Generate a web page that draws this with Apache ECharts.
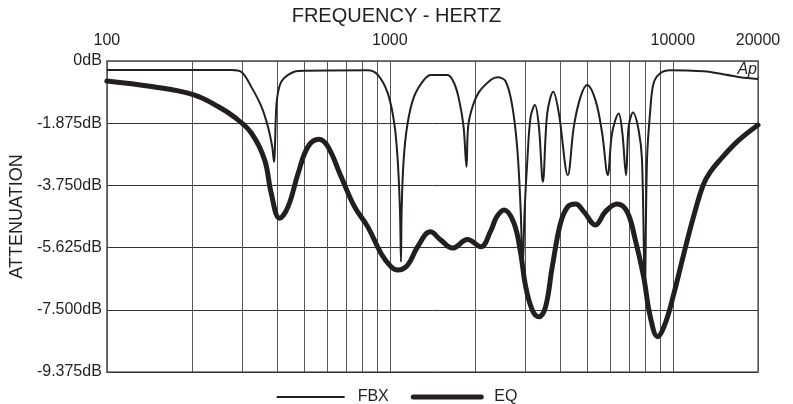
<!DOCTYPE html>
<html>
<head>
<meta charset="utf-8">
<script src="https://cdn.jsdelivr.net/npm/echarts@6/dist/echarts.min.js"></script>
<style>
html,body{margin:0;padding:0;background:#fff;}
#chart{width:793px;height:404px;}
</style>
</head>
<body>
<div id="chart"></div>
<script>
// Frequencies (Hz) and attenuation (dB)
const fbxHz = [100, 276, 299, 324, 352, 371, 384, 390, 392, 397, 403, 414, 437, 474, 836, 907, 983, 1037, 1066, 1086, 1095, 1101, 1119, 1156, 1217, 1320, 1397, 1600, 1688, 1758, 1822, 1866, 1891, 1960, 2068, 2273, 2400, 2567, 2711, 2823, 2900, 2947, 2995, 3062, 3145, 3256, 3363, 3474, 3600, 3781, 3957, 4256, 4469, 4719, 4983, 5329, 5626, 5888, 6102, 6437, 6633, 6835, 6982, 7236, 7571, 7783, 7962, 8106, 8325, 8552, 9031, 9792, 11210, 13190, 17280, 20000];
const fbxDb = [-0.27, -0.27, -0.33, -0.78, -1.38, -1.98, -2.58, -3.04, -2.78, -1.38, -0.93, -0.62, -0.42, -0.30, -0.28, -0.42, -0.97, -1.88, -2.98, -4.49, -6.05, -4.49, -2.98, -1.87, -1.08, -0.57, -0.42, -0.42, -0.67, -1.18, -1.98, -3.19, -1.98, -1.38, -0.93, -0.57, -0.49, -0.62, -1.38, -2.68, -4.49, -6.24, -4.49, -2.98, -1.68, -1.33, -1.98, -3.64, -1.58, -0.93, -1.58, -3.44, -1.98, -1.08, -0.72, -1.18, -2.17, -3.44, -2.17, -1.58, -2.17, -3.44, -1.98, -1.55, -2.08, -2.98, -6.90, -2.98, -1.48, -0.67, -0.37, -0.28, -0.29, -0.32, -0.49, -0.54];

const eqHz = [100, 144, 203, 248, 282, 324, 361, 381, 408, 437, 474, 514, 562, 604, 673, 750, 836, 931, 1010, 1066, 1156, 1254, 1391, 1515, 1666, 1882, 2096, 2273, 2386, 2537, 2746, 2900, 3020, 3189, 3363, 3551, 3750, 4011, 4256, 4531, 4845, 5329, 5780, 6355, 6891, 7373, 7885, 8325, 8834, 9404, 10060, 10910, 11830, 12800, 13550, 14690, 17000, 20000];
const eqDb = [-0.60, -0.77, -1.02, -1.38, -1.69, -2.17, -2.98, -3.99, -4.74, -4.39, -3.39, -2.58, -2.36, -2.58, -3.49, -4.39, -5.00, -5.80, -6.20, -6.30, -6.15, -5.60, -5.15, -5.40, -5.64, -5.38, -5.60, -5.12, -4.70, -4.49, -4.89, -5.80, -6.80, -7.51, -7.71, -7.41, -6.20, -4.89, -4.39, -4.31, -4.54, -4.94, -4.54, -4.31, -4.54, -5.40, -6.50, -7.71, -8.31, -7.91, -7.05, -5.85, -4.70, -3.74, -3.35, -2.98, -2.41, -1.93];

// Intermediate vertical grid frequencies
const gridHz = [200, 300, 400, 500, 600, 700, 800, 900, 2000, 3000, 4000, 5000, 6000, 7000, 8000, 9000];

const seriesNames = ['FBX', 'EQ'];
const yTicks = { min: -9.375, max: 0, interval: 1.875 };

const FONT = '"Liberation Sans", Arial, Helvetica, sans-serif';
const INK = '#231f20';

const zip = (xs, ys) => xs.map((x, i) => [x, ys[i]]);

const chart = echarts.init(document.getElementById('chart'));
chart.setOption({
  animation: false,
  backgroundColor: '#fff',
  textStyle: { fontFamily: FONT, color: INK },
  title: {
    text: 'FREQUENCY - HERTZ',
    left: 'center',
    top: 1,
    textStyle: { fontFamily: FONT, fontSize: 20, fontWeight: 'normal', color: INK }
  },
  grid: {
    left: 105, right: 35, top: 61, bottom: 32,
    show: true, borderColor: '#6d6d6d', borderWidth: 1.5, backgroundColor: 'transparent'
  },
  legend: {
    top: 384,
    left: 'center',
    itemWidth: 68,
    itemHeight: 14,
    itemGap: 22,
    textStyle: { fontFamily: FONT, fontSize: 16, color: INK, padding: [0, 0, 0, 8] },
    data: [
      { name: seriesNames[0], lineStyle: { width: 2, color: INK }, itemStyle: { opacity: 0 } },
      { name: seriesNames[1], lineStyle: { width: 5, color: INK, cap: 'round' }, itemStyle: { opacity: 0 } }
    ]
  },
  xAxis: {
    type: 'log',
    logBase: 10,
    min: 100,
    max: 20000,
    position: 'top',
    axisLine: { show: true, lineStyle: { color: '#6d6d6d', width: 1.5 } },
    axisTick: { show: false },
    axisLabel: {
      fontFamily: FONT, fontSize: 16, color: INK, margin: 12,
      formatter: v => String(Math.round(v)),
      showMinLabel: true, showMaxLabel: true
    },
    splitLine: { show: true, lineStyle: { color: '#555', width: 1 } }
  },
  yAxis: {
    type: 'value',
    min: yTicks.min,
    max: yTicks.max,
    interval: yTicks.interval,
    name: 'ATTENUATION',
    nameLocation: 'middle',
    nameRotate: 90,
    nameGap: 78,
    nameTextStyle: { fontFamily: FONT, fontSize: 18, color: INK },
    axisLine: { show: false },
    axisTick: { show: false },
    axisLabel: {
      fontFamily: FONT, fontSize: 16, color: INK, margin: 5,
      formatter: v => (Math.abs(v) < 1e-9 ? '0dB' : v.toFixed(3) + 'dB')
    },
    splitLine: { show: true, lineStyle: { color: '#333', width: 1 } }
  },
  graphic: [{
    type: 'text',
    right: 36,
    top: 62,
    style: { text: 'Ap', font: 'italic 16px ' + FONT, fill: INK }
  }],
  series: [
    {
      name: 'grid',
      type: 'line',
      data: [],
      silent: true,
      z: 1,
      markLine: {
        silent: true,
        symbol: ['none', 'none'],
        label: { show: false },
        lineStyle: { color: '#555', width: 1, type: 'solid' },
        z: 1,
        animation: false,
        data: gridHz.map(f => ({ xAxis: f }))
      }
    },
    {
      name: seriesNames[0],
      type: 'line',
      data: zip(fbxHz, fbxDb),
      showSymbol: false,
      symbol: 'none',
      smooth: 0.35,
      z: 3,
      lineStyle: { color: INK, width: 2 },
      itemStyle: { color: INK }
    },
    {
      name: seriesNames[1],
      type: 'line',
      data: zip(eqHz, eqDb),
      showSymbol: false,
      symbol: 'none',
      smooth: 0.4,
      z: 4,
      lineStyle: { color: INK, width: 5, cap: 'round', join: 'round' },
      itemStyle: { color: INK }
    }
  ]
});
</script>
</body>
</html>
